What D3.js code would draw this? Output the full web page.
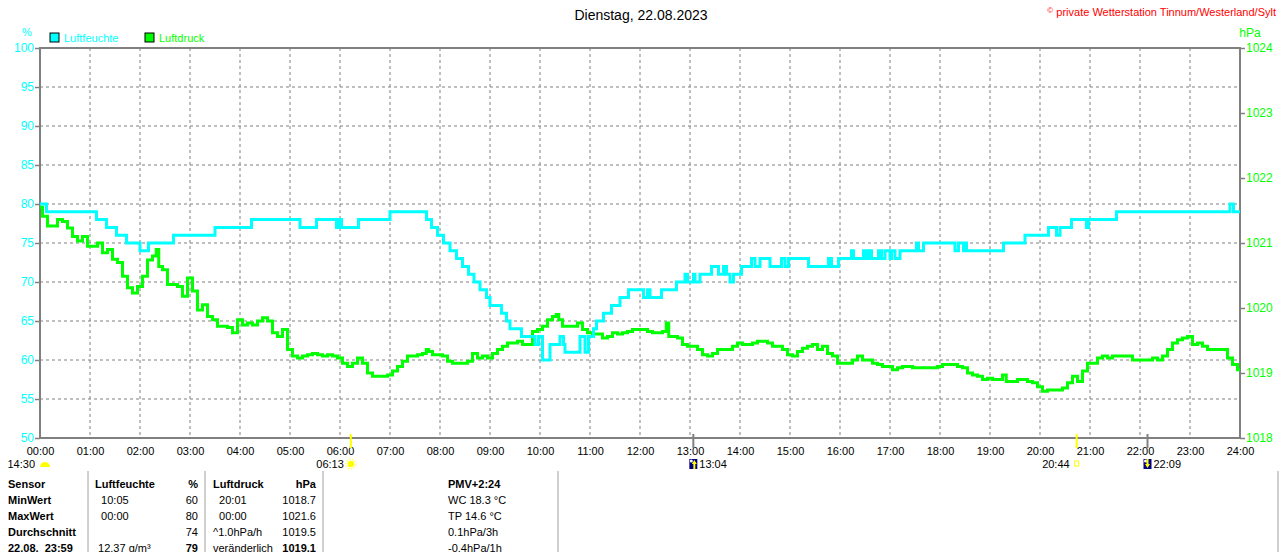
<!DOCTYPE html>
<html>
<head>
<meta charset="utf-8">
<script src="https://cdn.jsdelivr.net/npm/d3@7"></script>
<style>
    body { margin: 0; background: #fff; }
    svg text { font-family: "Liberation Sans", Arial, sans-serif; font-size: 11px; }
    .pre { white-space: pre; }
</style>
</head>
<body>
<div id="chart"></div>
<script>
// humidity, % (step values: [hour, value])
const humidity = [
    [0, 80], [0.13, 79], [1.13, 78], [1.33, 77], [1.53, 76], [1.73, 75], [2.0, 74], [2.17, 75],
    [2.67, 76], [3.5, 77], [4.23, 78], [5.2, 77], [5.53, 78], [5.93, 77], [5.97, 78], [6.03, 77],
    [6.37, 78], [7.0, 79], [7.73, 78], [7.83, 77], [7.95, 76], [8.07, 75], [8.2, 74], [8.33, 73],
    [8.45, 72], [8.57, 71], [8.68, 70], [8.8, 69], [8.93, 68], [9.0, 67], [9.23, 66], [9.33, 65],
    [9.4, 64], [9.63, 63], [9.9, 62], [9.97, 63], [10.05, 60], [10.2, 62], [10.4, 63], [10.47, 62],
    [10.5, 61], [10.8, 63], [10.9, 61], [10.97, 63], [11.07, 64], [11.13, 65], [11.27, 66], [11.43, 67],
    [11.6, 68], [11.77, 69], [12.07, 68], [12.15, 69], [12.2, 68], [12.43, 69], [12.73, 70], [12.9, 71],
    [12.95, 70], [13.07, 71], [13.1, 70], [13.2, 71], [13.43, 72], [13.57, 71], [13.67, 72], [13.73, 71],
    [13.8, 70], [13.87, 71], [14.03, 72], [14.23, 73], [14.3, 72], [14.4, 73], [14.6, 72], [14.83, 73],
    [14.9, 72], [14.97, 73], [15.37, 72], [15.77, 73], [15.83, 72], [15.97, 73], [16.23, 74], [16.27, 73],
    [16.47, 74], [16.53, 73], [16.57, 74], [16.63, 73], [16.77, 74], [16.83, 73], [16.9, 74], [17.0, 73],
    [17.03, 74], [17.1, 73], [17.2, 74], [17.53, 75], [17.57, 74], [17.67, 75], [18.3, 74], [18.37, 75],
    [18.47, 74], [18.5, 75], [18.53, 74], [19.27, 75], [19.7, 76], [20.17, 77], [20.33, 76], [20.4, 77],
    [20.63, 78], [20.93, 77], [20.97, 78], [21.53, 79], [23.8, 80], [23.87, 79], [24, 79]
];

// air pressure, hPa ([hour, value])
const pressure = [
    [0.0, 1021.55], [0.1, 1021.41], [0.2, 1021.26], [0.3, 1021.26], [0.4, 1021.36], [0.5, 1021.33],
    [0.6, 1021.23], [0.7, 1021.10], [0.8, 1021.03], [0.9, 1021.10], [1.0, 1020.95], [1.1, 1020.95],
    [1.2, 1021.00], [1.3, 1020.85], [1.4, 1020.90], [1.5, 1020.75], [1.6, 1020.70], [1.7, 1020.49],
    [1.8, 1020.31], [1.9, 1020.23], [2.0, 1020.33], [2.1, 1020.49], [2.2, 1020.74], [2.3, 1020.80],
    [2.35, 1020.90], [2.4, 1020.64], [2.5, 1020.59], [2.6, 1020.36], [2.7, 1020.36], [2.8, 1020.33],
    [2.9, 1020.18], [3.0, 1020.46], [3.1, 1020.26], [3.2, 1019.97], [3.3, 1020.05], [3.4, 1019.87],
    [3.5, 1019.82], [3.6, 1019.72], [3.7, 1019.72], [3.8, 1019.70], [3.9, 1019.62], [4.0, 1019.82],
    [4.1, 1019.74], [4.2, 1019.77], [4.3, 1019.74], [4.4, 1019.80], [4.5, 1019.85], [4.6, 1019.80],
    [4.7, 1019.62], [4.8, 1019.56], [4.9, 1019.67], [5.0, 1019.36], [5.1, 1019.26], [5.2, 1019.23],
    [5.3, 1019.26], [5.4, 1019.28], [5.5, 1019.30], [5.6, 1019.28], [5.7, 1019.26], [5.8, 1019.28],
    [5.9, 1019.26], [6.0, 1019.23], [6.1, 1019.15], [6.2, 1019.10], [6.3, 1019.15], [6.4, 1019.23],
    [6.5, 1019.15], [6.6, 1019.00], [6.7, 1018.95], [6.8, 1018.95], [6.9, 1018.95], [7.0, 1018.97],
    [7.1, 1019.03], [7.2, 1019.10], [7.3, 1019.18], [7.4, 1019.26], [7.5, 1019.26], [7.6, 1019.28],
    [7.7, 1019.30], [7.75, 1019.36], [7.8, 1019.33], [7.9, 1019.28], [8.0, 1019.28], [8.1, 1019.26],
    [8.2, 1019.18], [8.3, 1019.15], [8.4, 1019.15], [8.5, 1019.15], [8.6, 1019.18], [8.7, 1019.30],
    [8.8, 1019.23], [8.9, 1019.26], [9.0, 1019.23], [9.1, 1019.30], [9.2, 1019.36], [9.3, 1019.41],
    [9.4, 1019.46], [9.5, 1019.46], [9.6, 1019.49], [9.7, 1019.44], [9.8, 1019.44], [9.9, 1019.64],
    [10.0, 1019.67], [10.1, 1019.72], [10.2, 1019.82], [10.3, 1019.87], [10.35, 1019.90], [10.4, 1019.82],
    [10.5, 1019.72], [10.6, 1019.72], [10.7, 1019.72], [10.8, 1019.77], [10.9, 1019.67], [11.0, 1019.62],
    [11.1, 1019.60], [11.2, 1019.60], [11.3, 1019.54], [11.4, 1019.56], [11.5, 1019.62], [11.6, 1019.60],
    [11.7, 1019.62], [11.8, 1019.64], [11.9, 1019.67], [12.0, 1019.67], [12.1, 1019.67], [12.2, 1019.64],
    [12.3, 1019.62], [12.4, 1019.62], [12.5, 1019.64], [12.55, 1019.77], [12.6, 1019.56], [12.7, 1019.56],
    [12.8, 1019.54], [12.9, 1019.44], [13.0, 1019.41], [13.1, 1019.41], [13.2, 1019.36], [13.3, 1019.28],
    [13.4, 1019.26], [13.5, 1019.30], [13.6, 1019.36], [13.7, 1019.36], [13.8, 1019.36], [13.9, 1019.41],
    [14.0, 1019.46], [14.1, 1019.44], [14.2, 1019.44], [14.3, 1019.46], [14.4, 1019.49], [14.5, 1019.49],
    [14.6, 1019.46], [14.7, 1019.41], [14.8, 1019.41], [14.9, 1019.36], [15.0, 1019.28], [15.1, 1019.26],
    [15.2, 1019.33], [15.3, 1019.38], [15.4, 1019.41], [15.5, 1019.44], [15.6, 1019.36], [15.7, 1019.41],
    [15.8, 1019.30], [15.9, 1019.26], [16.0, 1019.15], [16.1, 1019.15], [16.2, 1019.15], [16.3, 1019.20],
    [16.4, 1019.26], [16.5, 1019.20], [16.6, 1019.20], [16.7, 1019.15], [16.8, 1019.13], [16.9, 1019.10],
    [17.0, 1019.10], [17.1, 1019.05], [17.2, 1019.08], [17.3, 1019.10], [17.4, 1019.10], [17.5, 1019.08],
    [17.6, 1019.08], [17.7, 1019.08], [17.8, 1019.08], [17.9, 1019.08], [18.0, 1019.10], [18.1, 1019.13],
    [18.2, 1019.13], [18.3, 1019.13], [18.4, 1019.10], [18.5, 1019.08], [18.6, 1019.00], [18.7, 1018.97],
    [18.8, 1018.95], [18.9, 1018.90], [19.0, 1018.92], [19.1, 1018.90], [19.2, 1018.90], [19.3, 1018.97],
    [19.35, 1018.87], [19.4, 1018.87], [19.5, 1018.87], [19.6, 1018.90], [19.7, 1018.90], [19.8, 1018.87],
    [19.9, 1018.85], [20.0, 1018.79], [20.1, 1018.72], [20.2, 1018.74], [20.3, 1018.74], [20.4, 1018.74],
    [20.5, 1018.77], [20.6, 1018.85], [20.7, 1018.95], [20.8, 1018.87], [20.9, 1019.03], [21.0, 1019.15],
    [21.1, 1019.15], [21.2, 1019.23], [21.3, 1019.26], [21.4, 1019.23], [21.5, 1019.26], [21.6, 1019.26],
    [21.7, 1019.26], [21.8, 1019.26], [21.9, 1019.20], [22.0, 1019.20], [22.1, 1019.20], [22.2, 1019.20],
    [22.3, 1019.23], [22.4, 1019.20], [22.5, 1019.26], [22.6, 1019.36], [22.7, 1019.46], [22.8, 1019.51],
    [22.9, 1019.54], [23.0, 1019.56], [23.1, 1019.44], [23.2, 1019.46], [23.3, 1019.41], [23.4, 1019.36],
    [23.5, 1019.36], [23.6, 1019.36], [23.7, 1019.36], [23.8, 1019.23], [23.9, 1019.13], [24.0, 1019.05]
];

const hours = [0, 1, 2, 3, 4, 5, 6, 7, 8, 9, 10, 11, 12, 13, 14, 15, 16, 17, 18, 19, 20, 21, 22, 23, 24];
const humTicks = [50, 55, 60, 65, 70, 75, 80, 85, 90, 95, 100];
const pressTicks = [1018, 1019, 1020, 1021, 1022, 1023, 1024];

const sunEvents = ["06:13", "20:44"];   // sunrise, sunset
const moonEvents = ["13:04", "22:09"];  // moonrise, moonset
const prevEvent = "14:30";

const tableRows = [
    ["Sensor", "Luftfeuchte", "%", "Luftdruck", "hPa", "PMV+2:24"],
    ["MinWert", "  10:05", "60", "  20:01", "1018.7", "WC 18.3 °C"],
    ["MaxWert", "  00:00", "80", "  00:00", "1021.6", "TP 14.6 °C"],
    ["Durchschnitt", "", "74", "^1.0hPa/h", "1019.5", "0.1hPa/3h"],
    ["22.08.  23:59", " 12.37 g/m³", "79", "veränderlich", "1019.1", "-0.4hPa/1h"]
];

const width = 1280, height = 552,
    margin = ({ top: 48, right: 40, bottom: 114, left: 40 });

const cyan = "#00ffff", green = "#00ff00", gray = "#808080";

const svg = d3.select("#chart")
    .append("svg")
    .attr("width", width)
    .attr("height", height);

const x = d3.scaleLinear()
    .domain([0, 24])
    .range([margin.left, width - margin.right]);

const yHum = d3.scaleLinear()
    .domain([50, 100])
    .range([height - margin.bottom, margin.top]);

const yPress = d3.scaleLinear()
    .domain([1018, 1024])
    .range([height - margin.bottom, margin.top]);

const toHour = s => +s.slice(0, 2) + (+s.slice(3)) / 60;

// title + copyright
svg.append("text")
    .attr("x", 641).attr("y", 20)
    .attr("text-anchor", "middle")
    .style("font-size", "14px")
    .text("Dienstag, 22.08.2023");

svg.append("text")
    .attr("x", 1276).attr("y", 16)
    .attr("text-anchor", "end")
    .attr("fill", "#ff0000")
    .style("font-size", "11px")
    .html('<tspan style="font-size:8px" dy="-3">©</tspan><tspan dy="3"> private Wetterstation Tinnum/Westerland/Sylt</tspan>');

// grid
svg.append("g")
    .selectAll("line")
    .data(hours.slice(1, -1))
    .join("line")
    .attr("x1", d => x(d)).attr("x2", d => x(d))
    .attr("y1", margin.top).attr("y2", height - margin.bottom)
    .attr("stroke", gray)
    .attr("stroke-dasharray", "3,3");

svg.append("g")
    .selectAll("line")
    .data(humTicks.slice(1, -1))
    .join("line")
    .attr("x1", margin.left).attr("x2", width - margin.right)
    .attr("y1", d => yHum(d)).attr("y2", d => yHum(d))
    .attr("stroke", gray)
    .attr("stroke-dasharray", "3,3");

// axes
const left = svg.append("g")
    .attr("transform", `translate(${margin.left},0)`)
    .call(d3.axisLeft(yHum).tickValues(humTicks).tickSize(5).tickPadding(1));
left.selectAll("text").attr("fill", cyan).style("font-size", "12px");

const right = svg.append("g")
    .attr("transform", `translate(${width - margin.right},0)`)
    .call(d3.axisRight(yPress).tickValues(pressTicks).tickSize(5).tickPadding(1)
        .tickFormat(d3.format("d")));
right.selectAll("text").attr("fill", green).style("font-size", "12px");

const bottom = svg.append("g")
    .attr("transform", `translate(0,${height - margin.bottom})`)
    .call(d3.axisBottom(x).tickValues(hours).tickSize(0).tickPadding(9)
        .tickFormat(d => String(d).padStart(2, "0") + ":00"));
bottom.selectAll("text").attr("fill", "#000");

svg.selectAll(".domain").remove();
svg.selectAll(".tick line").attr("stroke", gray).attr("stroke-width", 1.5);
svg.selectAll(".tick text").style("font-family", '"Liberation Sans", Arial, sans-serif');

// frame
svg.append("rect")
    .attr("x", margin.left).attr("y", margin.top)
    .attr("width", width - margin.left - margin.right)
    .attr("height", height - margin.top - margin.bottom)
    .attr("fill", "none")
    .attr("stroke", gray)
    .attr("stroke-width", 2);

// unit labels
svg.append("text").attr("x", 27).attr("y", 36).attr("text-anchor", "middle")
    .attr("fill", cyan).text("%");
svg.append("text").attr("x", 1250).attr("y", 37).attr("text-anchor", "middle")
    .attr("fill", green).style("font-size", "12px").text("hPa");

// legend
const legend = [["Luftfeuchte", cyan, 50], ["Luftdruck", green, 145]];
const lg = svg.append("g").selectAll("g").data(legend).join("g")
    .attr("transform", d => `translate(${d[2]},33)`);
lg.append("rect").attr("width", 9).attr("height", 9)
    .attr("fill", d => d[1]).attr("stroke", "#000");
lg.append("text").attr("x", 14).attr("y", 9)
    .attr("fill", d => d[1]).text(d => d[0]);

// series
svg.append("path")
    .datum(pressure)
    .attr("fill", "none")
    .attr("stroke", green)
    .attr("stroke-width", 3)
    .attr("d", d3.line().x(d => x(d[0])).y(d => yPress(d[1])).curve(d3.curveStep));

svg.append("path")
    .datum(humidity)
    .attr("fill", "none")
    .attr("stroke", cyan)
    .attr("stroke-width", 3)
    .attr("d", d3.line().x(d => x(d[0])).y(d => yHum(d[1])).curve(d3.curveStepAfter));

// sun / moon markers
const base = height - margin.bottom;
svg.append("g").selectAll("line")
    .data(sunEvents.concat(moonEvents))
    .join("line")
    .attr("x1", d => x(toHour(d))).attr("x2", d => x(toHour(d)))
    .attr("y1", base - 4).attr("y2", base + 10)
    .attr("stroke", d => sunEvents.includes(d) ? "#ffff00" : gray)
    .attr("stroke-width", 2);

const rowY = base + 30;
// previous event at day start
svg.append("text").attr("x", x(0) - 5).attr("y", rowY).attr("text-anchor", "end").text(prevEvent);
svg.append("path")
    .attr("d", d3.arc()({ innerRadius: 0, outerRadius: 5, startAngle: -Math.PI / 2, endAngle: Math.PI / 2 }))
    .attr("transform", `translate(${x(0) + 5},${rowY - 1})`)
    .attr("fill", "#ffff00");

// sunrise
svg.append("text").attr("x", x(toHour(sunEvents[0])) - 7).attr("y", rowY)
    .attr("text-anchor", "end").text(sunEvents[0]);
const sun = svg.append("g").attr("transform", `translate(${x(toHour(sunEvents[0]))},${rowY - 4})`);
sun.append("circle").attr("r", 5).attr("fill", "none").attr("stroke", "#ffff00")
    .attr("stroke-dasharray", "1.5,1.5");
sun.append("circle").attr("r", 3.2).attr("fill", "#ffff00");

// sunset
svg.append("text").attr("x", x(toHour(sunEvents[1])) - 7).attr("y", rowY)
    .attr("text-anchor", "end").text(sunEvents[1]);
svg.append("rect").attr("x", x(toHour(sunEvents[1])) - 2).attr("y", rowY - 7)
    .attr("width", 4).attr("height", 5).attr("fill", "none").attr("stroke", "#ffff00");

// moonrise / moonset
moonEvents.forEach((t, i) => {
    const mx = x(toHour(t));
    const g = svg.append("g").attr("transform", `translate(${mx - 4},${rowY - 9})`);
    g.append("rect").attr("width", 8).attr("height", 10).attr("fill", "#000080");
    g.append("circle").attr("cx", 2).attr("cy", 2).attr("r", 1.5).attr("fill", "#fff");
    g.append("path")
        .attr("d", i === 0 ? "M5,1 L7.5,5 L6,5 L6,10 L4,10 L4,5 L2.5,5 Z" : "M3,0 L5,0 L5,5 L6.5,5 L4,9 L1.5,5 L3,5 Z")
        .attr("fill", "#ffff00");
    svg.append("text").attr("x", mx + 6).attr("y", rowY).text(t);
});

// table
const colX = [8, 95, 198, 213, 316, 448];
const colAnchor = ["start", "start", "end", "start", "end", "start"];
const boldCells = (r, c) => r === 0 || c === 0 || (r === 4 && (c === 2 || c === 4));

tableRows.forEach((row, r) => {
    row.forEach((cell, c) => {
        svg.append("text")
            .attr("class", "pre")
            .attr("x", colX[c])
            .attr("y", 488 + r * 16)
            .attr("text-anchor", colAnchor[c])
            .attr("font-weight", boldCells(r, c) ? "bold" : "normal")
            .text(cell);
    });
});

svg.append("g").selectAll("line")
    .data([88, 205, 323, 558, 1278])
    .join("line")
    .attr("x1", d => d).attr("x2", d => d)
    .attr("y1", 471).attr("y2", height)
    .attr("stroke", "#a0a0a0");
</script>
</body>
</html>
